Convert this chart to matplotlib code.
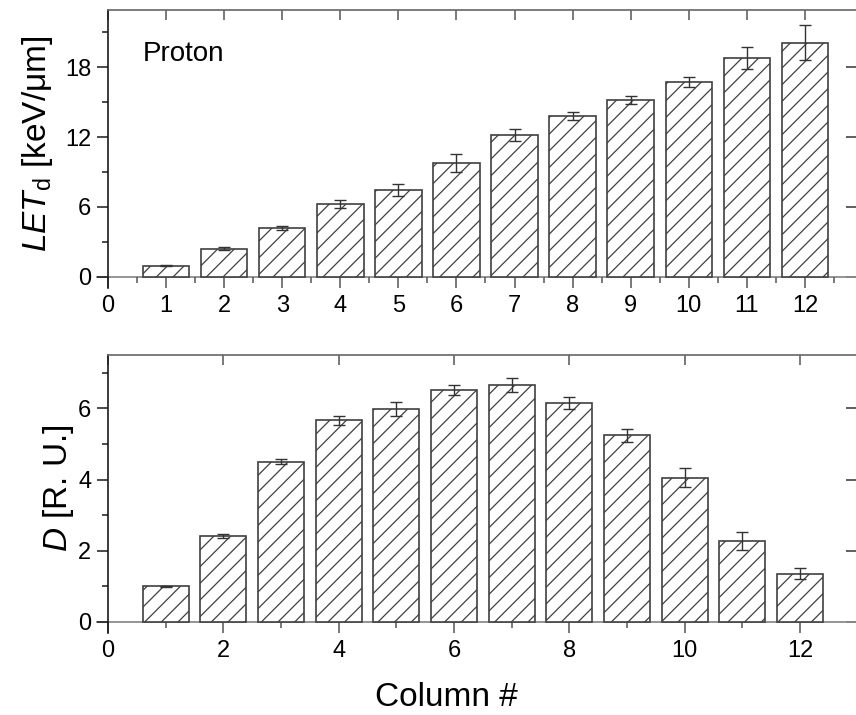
import matplotlib
matplotlib.use("Agg")
import matplotlib.pyplot as plt
from matplotlib.ticker import MultipleLocator

plt.rcParams['font.family'] = ['Liberation Sans', 'DejaVu Sans']
plt.rcParams['mathtext.fontset'] = 'custom'
plt.rcParams['mathtext.rm'] = 'Liberation Sans'
plt.rcParams['mathtext.it'] = 'Liberation Sans:italic'
plt.rcParams['hatch.linewidth'] = 0.9
plt.rcParams['hatch.color'] = '#2b2b2b'

columns = [1, 2, 3, 4, 5, 6, 7, 8, 9, 10, 11, 12]

# dose-averaged LET per column
let_d = [0.95, 2.43, 4.2, 6.24, 7.44, 9.76, 12.19, 13.79, 15.19, 16.71, 18.77, 20.11]
let_err = [0.05, 0.1, 0.2, 0.36, 0.5, 0.79, 0.49, 0.33, 0.37, 0.43, 0.92, 1.49]

# relative dose per column
dose = [1.0, 2.41, 4.5, 5.66, 5.98, 6.52, 6.65, 6.16, 5.24, 4.05, 2.27, 1.36]
dose_err = [0.02, 0.056, 0.07, 0.12, 0.19, 0.15, 0.19, 0.17, 0.18, 0.27, 0.25, 0.15]

W, H = 856, 715
fig = plt.figure(figsize=(W / 100, H / 100), dpi=100)

edge = '#404040'
zero_col = '#8c8c8c'
TICK = 17


def style_panel(ax, xlim, ylim, xmajor, xminor, ymajor, yminor):
    ax.set_xlim(*xlim)
    ax.set_ylim(*ylim)
    # x axis sits on the zero line, the y axis runs a bit below it
    ax.spines['bottom'].set_position(('data', 0))
    ax.spines['bottom'].set_visible(False)
    ax.spines['right'].set_visible(False)
    ax.spines['left'].set_color('#1a1a1a')
    ax.spines['left'].set_linewidth(1.2)
    ax.spines['top'].set_color('#666666')
    ax.spines['top'].set_linewidth(1.2)

    ax.xaxis.set_major_locator(MultipleLocator(xmajor))
    ax.xaxis.set_minor_locator(MultipleLocator(xminor))
    ax.yaxis.set_major_locator(MultipleLocator(ymajor))
    ax.yaxis.set_minor_locator(MultipleLocator(yminor))

    ax.tick_params(axis='x', which='both', direction='out', bottom=True, top=False,
                   labelsize=TICK, pad=5, color='#555555', width=1.1)
    ax.tick_params(axis='x', which='major', length=8)
    ax.tick_params(axis='x', which='minor', length=4)
    ax.tick_params(axis='y', which='both', direction='out', left=True, right=False,
                   labelsize=TICK, pad=4, color='#1a1a1a', width=1.1)
    ax.tick_params(axis='y', which='major', length=8)
    ax.tick_params(axis='y', which='minor', length=4)

    secx = ax.secondary_xaxis('top')
    secx.xaxis.set_major_locator(MultipleLocator(xmajor))
    secx.tick_params(direction='in', length=7, width=1.1, color='#555555', labeltop=False)
    secx.spines['top'].set_visible(False)

    secy = ax.secondary_yaxis('right')
    secy.yaxis.set_major_locator(MultipleLocator(ymajor))
    secy.tick_params(direction='in', length=7, width=1.1, color='#333333', labelright=False)
    secy.spines['right'].set_visible(False)

    # baseline at zero, reaching a little left of the y axis
    ax.plot([-0.19, xlim[1]], [0, 0], color=zero_col, lw=1.3, clip_on=False, zorder=1)


def draw_bars(ax, vals, errs):
    ax.bar(columns, vals, width=0.8, color='white', edgecolor=edge, linewidth=1.2,
           hatch='//', zorder=2)
    ax.errorbar(columns, vals, yerr=errs, fmt='none', ecolor='#333333', elinewidth=1.0,
                capsize=4.5, capthick=1.0, zorder=3)


# top panel: LET_d
ax1 = fig.add_axes([108 / W, (H - 288) / H, 748 / W, 278 / H])
draw_bars(ax1, let_d, let_err)
style_panel(ax1, (0, 12.88), (-0.95, 22.9), 1, 0.5, 6, 3)
ax1.text((143 - 108) / 748, 0.84, 'Proton', transform=ax1.transAxes,
         fontsize=20, ha='left', va='center')
ax1.text(-0.083, 0.52, r'$LET_{\mathrm{d}}$ [keV/μm]', transform=ax1.transAxes,
         rotation=90, rotation_mode='anchor', ha='center', va='baseline', fontsize=24)

# bottom panel: relative dose
ax2 = fig.add_axes([108 / W, (H - 633) / H, 748 / W, 278 / H])
draw_bars(ax2, dose, dose_err)
style_panel(ax2, (0, 12.97), (-0.31, 7.5), 2, 1, 2, 1)
ax2.text(-0.0552, 0.52, r'$D$ [R. U.]', transform=ax2.transAxes,
         rotation=90, rotation_mode='anchor', ha='center', va='baseline', fontsize=24)

fig.text(446 / W, 1 - 697 / H, 'Column #', ha='center', va='center', fontsize=24)

fig.savefig('out.png', dpi=100)
